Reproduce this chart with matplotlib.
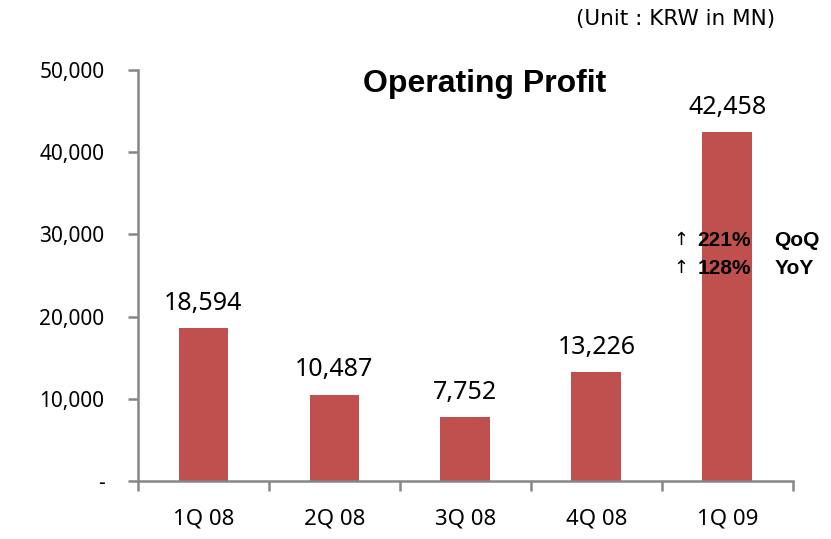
import numpy as np
import matplotlib.pyplot as plt

quarters = ['1Q 08', '2Q 08', '3Q 08', '4Q 08', '1Q 09']
profit = [18594, 10487, 7752, 13226, 42458]
yticks = [0, 10000, 20000, 30000, 40000, 50000]
ytick_labels = ['-', '10,000', '20,000', '30,000', '40,000', '50,000']

plt.rcParams['font.family'] = ['Noto Sans', 'DejaVu Sans']
BOLD = ['Liberation Sans', 'DejaVu Sans']

fig = plt.figure(figsize=(8.31, 5.39), dpi=100)
ax = fig.add_axes([0.166, 0.1076, 0.788, 0.7626])

x = np.arange(len(quarters))
ax.bar(x, profit, width=0.38, color='#C0504D')

## value labels above bars
for i, v in enumerate(profit):
    ax.text(i, v + 1500, '{:,}'.format(v), ha='center', va='bottom', fontsize=18)

ax.set_xlim(-0.5, len(quarters) - 0.5)
ax.set_ylim(0, 50000)
ax.set_yticks(yticks)
ax.set_yticklabels(ytick_labels, fontsize=15)
ax.set_xticks(x)
ax.set_xticklabels(quarters, fontsize=16)

## category boundary ticks on x axis
ax.set_xticks(np.arange(-0.5, len(quarters)), minor=True)
ax.tick_params(axis='x', which='major', length=0, pad=20)
ax.tick_params(axis='x', which='minor', length=7, width=1.8, color='#878787', direction='out')
ax.tick_params(axis='y', length=7, width=1.8, color='#878787', direction='out', pad=17)

for s in ['top', 'right']:
    ax.spines[s].set_visible(False)
for s in ['left', 'bottom']:
    ax.spines[s].set_color('#878787')
    ax.spines[s].set_linewidth(1.8)

ax.text(0.53, 0.965, 'Operating Profit', transform=ax.transAxes, ha='center', va='center',
        fontsize=23, fontweight='bold', family=BOLD)

## growth annotation on the last bar
ax.text(3.59, 29300, '↑', fontsize=13, va='center', family=['DejaVu Sans'])
ax.text(3.77, 29300, '221%', fontsize=15, fontweight='bold', va='center', family=BOLD)
ax.text(4.36, 29300, 'QoQ', fontsize=15, fontweight='bold', va='center', family=BOLD)
ax.text(3.59, 25900, '↑', fontsize=13, va='center', family=['DejaVu Sans'])
ax.text(3.77, 25900, '128%', fontsize=15, fontweight='bold', va='center', family=BOLD)
ax.text(4.36, 25900, 'YoY', fontsize=15, fontweight='bold', va='center', family=BOLD)

fig.text(0.933, 0.965, '(Unit : KRW in MN)', ha='right', va='center', fontsize=15.5,
         family=['DejaVu Sans'])

fig.savefig('out.png', dpi=100)
